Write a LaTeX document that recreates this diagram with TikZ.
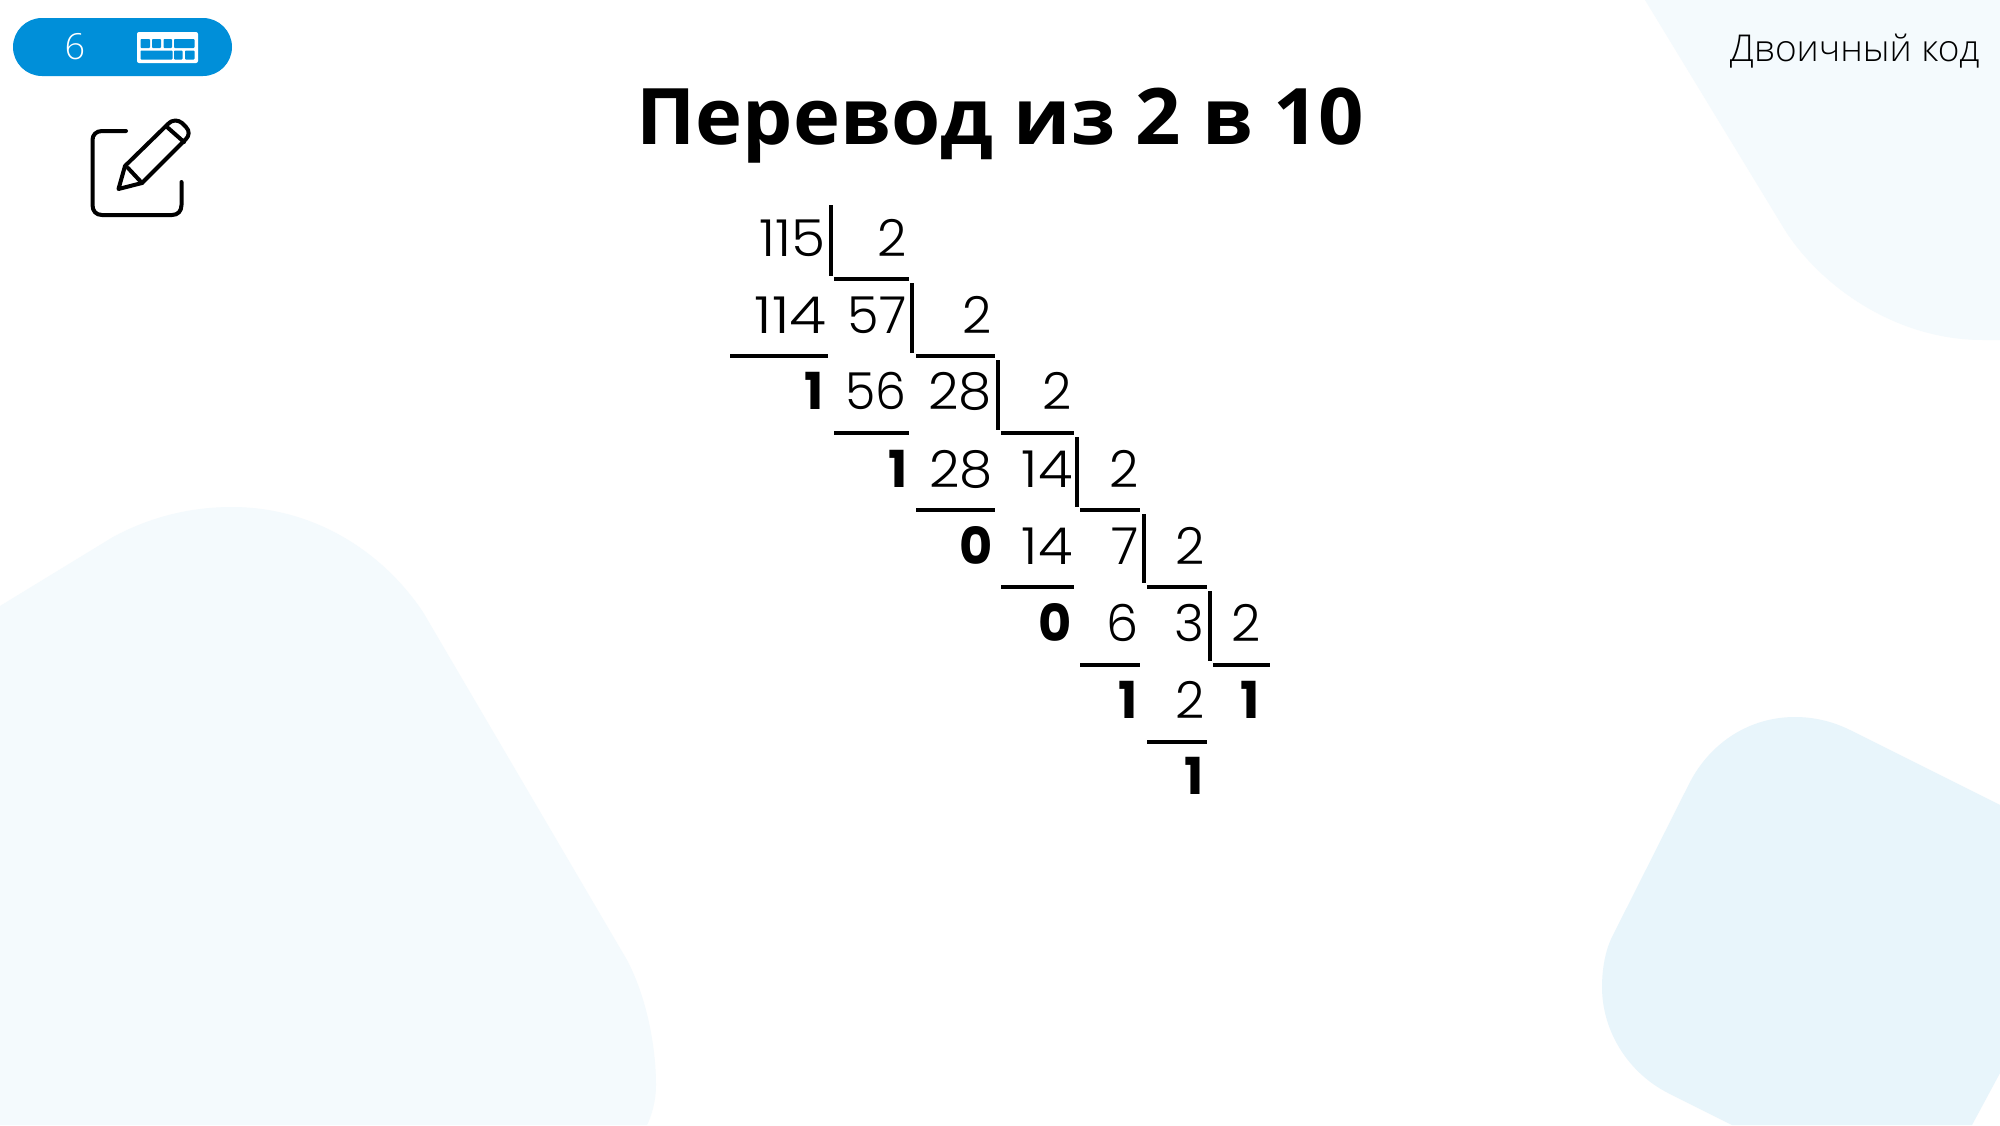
\documentclass[tikz,border=0pt]{standalone}
\usepackage{fontspec}
\setmainfont{Open Sans}
\newfontfamily\digitfont{Poppins Light}
\newfontfamily\boldfont{Poppins Bold}
\newfontfamily\titlefont{Open Sans}[UprightFont=*,BoldFont=* Bold]
\newfontfamily\thinfont{Open Sans Light}
\definecolor{blobA}{HTML}{F4FAFD}
\definecolor{blobB}{HTML}{E8F5FB}
\definecolor{pill}{HTML}{008FD9}
\newcommand\wide[1]{\scalebox{1.1}[1]{#1}}
\tikzset{
  x=0.5pt,y=-0.5pt,
  num/.style={anchor=base east,inner sep=0pt,xshift=1.5pt,yshift=-0.5pt,font=\digitfont\fontsize{25.5pt}{28pt}\selectfont},
  rem/.style={anchor=base east,inner sep=0pt,xshift=1.5pt,yshift=-0.5pt,font=\boldfont\fontsize{25.5pt}{28pt}\selectfont},
  rule/.style={line width=2pt,black},
  key/.style={fill=pill,draw=none,rounded corners=0.4pt},
  icon/.style={line width=2pt,line cap=round,line join=round,black}
}
\begin{document}
\begin{tikzpicture}
\useasboundingbox (0,0) rectangle (2000,1125);
\fill[white] (0,0) rectangle (2000,1125);
% background blobs
\fill[blobA] (1645,0) -- (1783,227) .. controls (1815,280) and (1890,340) .. (1983,340) -- (2000,340) -- (2000,0) -- cycle;
\fill[blobA] (0,606) -- (113,537) .. controls (150,517) and (190,507) .. (232,507) .. controls (310,507) and (380,548) .. (423,612) -- (627,960) .. controls (648,1000) and (656,1050) .. (656,1085) .. controls (656,1100) and (652,1115) .. (647,1125) -- (0,1125) -- cycle;
\fill[blobB] (2000,805) -- (1850,730) .. controls (1832,721) and (1813,717) .. (1795,717) .. controls (1750,717) and (1711,742) .. (1690,782) -- (1613,935) .. controls (1605,950) and (1602,970) .. (1602,987) .. controls (1602,1030) and (1627,1072) .. (1668,1093) -- (1732,1125) -- (1972,1125) -- (2000,1073) -- cycle;
% pill
\fill[pill,rounded corners=14.5pt] (13,18) rectangle (232,76);
\node[inner sep=0pt,text=white,font=\thinfont\fontsize{18pt}{20pt}\selectfont] (pagenum) at (75,47) {6};
\fill[white,rounded corners=1pt] (137,32) rectangle (198,63);
\fill[key] (140.5,39) rectangle (150,48);
\fill[key] (152,39) rectangle (161,48);
\fill[key] (163.5,39) rectangle (172,48);
\fill[key] (174,39) rectangle (194.5,48);
\fill[key] (140.5,50.5) rectangle (172.5,59.5);
\fill[key] (174,50.5) rectangle (182.5,59.5);
\fill[key] (185,50.5) rectangle (194.5,59.5);
% edit icon
\draw[icon] (126,131) -- (102,131) .. controls (96,131) and (92.5,135) .. (92.5,140) -- (92.5,205) .. controls (92.5,211) and (96,215) .. (102,215) -- (172,215) .. controls (178,215) and (181.5,211) .. (181.5,205) -- (181.5,182);
\draw[icon] (118.5,189) -- (125,166) -- (168,124) .. controls (173,119) and (178,120) .. (182,123) -- (186,127) .. controls (190,131) and (189,136) .. (186,139) -- (142,183) -- cycle;
\draw[icon] (167,127) -- (184,142);
\draw[icon] (128,168) -- (142,183);
% texts
\node[anchor=base,inner sep=0pt,font=\titlefont\bfseries\fontsize{39pt}{44pt}\selectfont] (title) at (1000.5,144) {\scalebox{1.02}[1]{Перевод из 2 в 10}};
\node[anchor=base east,inner sep=0pt,font=\thinfont\fontsize{18.5pt}{20pt}\selectfont] (topic) at (1980,61) {Двоичный код};
% long division
\node[num] (a1) at (823,255) {\scalebox{1.08}[1]{115}};
\node[num] (a2) at (904,255) {2};
\node[num] (b1) at (824,332) {\scalebox{1.18}[1]{114}};
\node[num] (b2) at (904,332) {57};
\node[num] (b3) at (989,332) {2};
\node[rem] (c1) at (821,408) {1};
\node[num] (c2) at (904,408) {\scalebox{0.96}[1]{56}};
\node[num] (c3) at (989,408) {\scalebox{1.04}[1]{28}};
\node[num] (c4) at (1069,408) {2};
\node[rem] (d1) at (905,486) {1};
\node[num] (d2) at (990,486) {\scalebox{1.04}[1]{28}};
\node[num] (d3) at (1070,486) {\wide{14}};
\node[num] (d4) at (1136,486) {2};
\node[rem] (e1) at (990,563) {0};
\node[num] (e2) at (1070,563) {\wide{14}};
\node[num] (e3) at (1136,563) {7};
\node[num] (e4) at (1202,563) {2};
\node[rem] (f1) at (1069,640) {0};
\node[num] (f2) at (1136,640) {6};
\node[num] (f3) at (1202,640) {3};
\node[num] (f4) at (1258,640) {2};
\node[rem] (g1) at (1135,717) {1};
\node[num] (g2) at (1202,717) {2};
\node[rem] (g3) at (1257,717) {1};
\node[rem] (h1) at (1201,793) {1};
% vertical bars
\draw[rule] (831,205) -- (831,276);
\draw[rule] (912,283) -- (912,353);
\draw[rule] (998,360) -- (998,430);
\draw[rule] (1077,437) -- (1077,507);
\draw[rule] (1144,514) -- (1144,583);
\draw[rule] (1210,591) -- (1210,661);
% horizontal rules
\draw[rule] (834,279) -- (909,279);
\draw[rule] (730,356) -- (828,356);
\draw[rule] (916,356) -- (995,356);
\draw[rule] (834,433) -- (909,433);
\draw[rule] (1001,433) -- (1074,433);
\draw[rule] (916,510) -- (995,510);
\draw[rule] (1080,510) -- (1140,510);
\draw[rule] (1001,587) -- (1074,587);
\draw[rule] (1147,587) -- (1207,587);
\draw[rule] (1080,665) -- (1140,665);
\draw[rule] (1213,665) -- (1270,665);
\draw[rule] (1147,742) -- (1207,742);
\end{tikzpicture}
\end{document}
